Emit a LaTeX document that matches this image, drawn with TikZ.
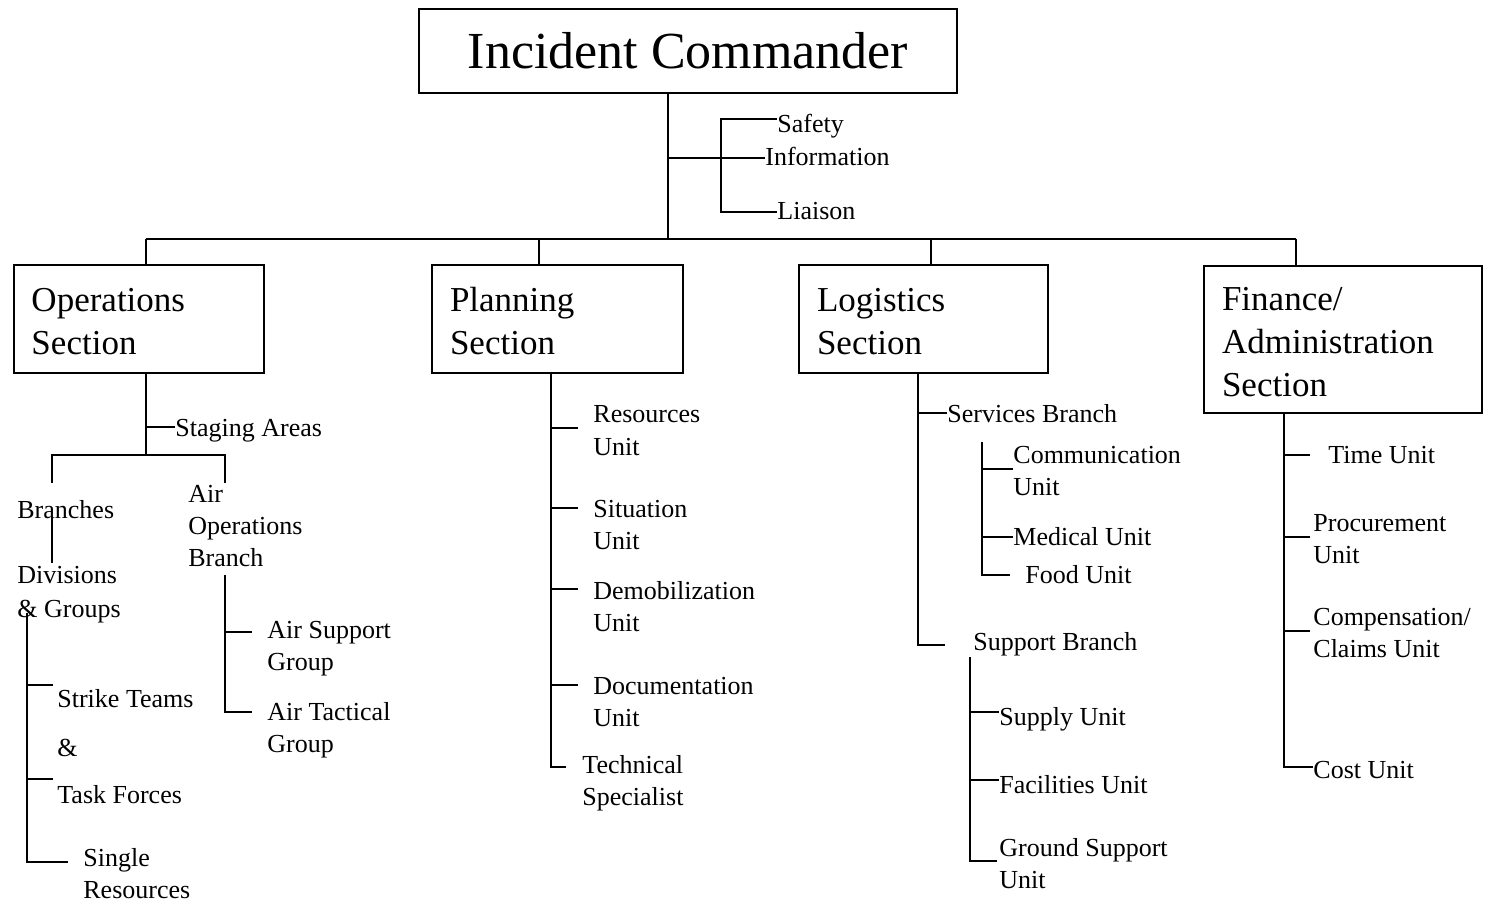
\documentclass[tikz,border=0pt]{standalone}
\usepackage{fontspec}
\setmainfont{Liberation Serif}
\begin{document}
\tikzset{
 conn/.style={line width=1pt},
 lbl/.style={font=\fontsize{13}{16}\selectfont, inner sep=0pt, anchor=north west, align=left, yshift=4.3pt},
 wide/.style={font=\fontsize{13}{16.75}\selectfont},
 secbox/.style={draw, line width=1pt, font=\fontsize{17.5}{21.5}\selectfont, align=left, inner xsep=9pt, inner ysep=0pt, minimum height=54pt},
 topbox/.style={draw, line width=1pt, font=\fontsize{26}{30}\selectfont, minimum width=269pt, minimum height=42pt, inner sep=0pt}
}
\newcommand{\topstrut}{\rule{0pt}{14.5pt}}
\begin{tikzpicture}[x=0.5pt,y=-0.5pt]
\useasboundingbox (0,0) rectangle (1486,903);
% top
\node[topbox] (ic) at (688,51) {Incident Commander};
\coordinate (j0) at (668,239);
\coordinate (s0) at (668,158);
\coordinate (s1) at (721,158);
\coordinate (sa) at (721,119);
\coordinate (sl) at (721,212);
\node[lbl] (safety) at (777,122) {Safety};
\node[lbl] (info) at (765,155) {Information};
\node[lbl] (liaison) at (777,210) {Liaison};
\draw[conn] (ic.south -| j0) -- (j0);
\draw[conn] (s0) -- (s0 -| info.west);
\draw[conn] (sa -| safety.west) -- (sa) -- (sl) -- (sl -| liaison.west);
% sections
\node[secbox, text width=107pt] (ops) at (138.5,319) {\topstrut Operations\\Section};
\node[secbox, text width=107.5pt] (plan) at (557.5,319) {\topstrut Planning\\Section};
\node[secbox, text width=106.5pt] (log) at (923.5,319) {\topstrut Logistics\\Section};
\node[secbox, text width=121pt, minimum height=73.5pt] (fin) at (1343,339.5) {\topstrut Finance/\\Administration\\Section};
\coordinate (d1) at (146,239);
\coordinate (d2) at (539,239);
\coordinate (d3) at (931,239);
\coordinate (d4) at (1296,239);
\draw[conn] (d1) -- (d4);
\draw[conn] (d1) -- (d1 |- ops.north);
\draw[conn] (d2) -- (d2 |- plan.north);
\draw[conn] (d3) -- (d3 |- log.north);
\draw[conn] (d4) -- (d4 |- fin.north);
% operations subtree
\node[lbl] (staging) at (175,427.5) {Staging Areas};
\node[lbl] (branches) at (17,509) {Branches};
\node[lbl, font=\fontsize{13}{17}\selectfont] (divisions) at (17,574) {Divisions\\\& Groups};
\node[lbl] (airops) at (188,493) {Air\\Operations\\Branch};
\node[lbl] (airsup) at (267,629) {Air Support\\Group};
\node[lbl] (airtac) at (267,711) {Air Tactical\\Group};
\node[lbl] (strike) at (57,698) {Strike Teams};
\node[lbl] (amp) at (57,747) {\&};
\node[lbl] (task) at (57,794) {Task Forces};
\node[lbl, font=\fontsize{13}{15.75}\selectfont] (single) at (83,857) {Single\\Resources};
\coordinate (o0) at (146,427);
\coordinate (o1) at (146,455);
\coordinate (ob) at (52,483);
\coordinate (oa) at (225,483);
\draw[conn] (d1 |- ops.south) -- (o1);
\draw[conn] (o0) -- (o0 -| staging.west);
\draw[conn] (ob) |- (o1) -| (oa);
\coordinate (b1) at (52,518);
\coordinate (b2) at (52,563);
\draw[conn] (b1) -- (b2);
\coordinate (a1) at (225,575);
\coordinate (a2) at (225,632);
\coordinate (a2e) at (252,632);
\coordinate (a3e) at (252,712);
\draw[conn] (a1) |- (a3e);
\draw[conn] (a2) -- (a2e);
\coordinate (g0) at (27,613);
\coordinate (g1) at (27,685);
\coordinate (g2) at (27,779);
\coordinate (g1e) at (53,685);
\coordinate (g2e) at (53,779);
\coordinate (g3e) at (68,862);
\draw[conn] (g0) |- (g3e);
\draw[conn] (g1) -- (g1e);
\draw[conn] (g2) -- (g2e);
% planning subtree
\node[lbl, wide] (resources) at (593,413.5) {Resources\\Unit};
\node[lbl] (situation) at (593,508.5) {Situation\\Unit};
\node[lbl] (demob) at (593,590) {Demobilization\\Unit};
\node[lbl] (docu) at (593,685) {Documentation\\Unit};
\node[lbl] (tech) at (582,763.5) {Technical\\Specialist};
\coordinate (pv) at (551,767);
\coordinate (pve) at (566,767);
\draw[conn] (plan.south -| pv) -- (pv) -- (pve);
\foreach \yy in {428,508,589,685} \draw[conn] (551,\yy) -- (578,\yy);
% logistics subtree
\node[lbl] (services) at (947,413) {Services Branch};
\node[lbl] (support) at (973,641) {Support Branch};
\node[lbl] (comm) at (1013,454) {Communication\\Unit};
\node[lbl] (medical) at (1013,535.5) {Medical Unit};
\node[lbl] (food) at (1025,574) {Food Unit};
\node[lbl] (supply) at (999,716) {Supply Unit};
\node[lbl] (facil) at (999,784) {Facilities Unit};
\node[lbl] (ground) at (999,846.5) {Ground Support\\Unit};
\coordinate (lv0) at (918,413);
\coordinate (lv1) at (918,645);
\coordinate (lv1e) at (945,645);
\draw[conn] (log.south -| lv0) -- (lv1) -- (lv1e);
\draw[conn] (lv0) -- (lv0 -| services.west);
\coordinate (sv0) at (982,442);
\coordinate (sv1) at (982,469);
\coordinate (sv2) at (982,537);
\coordinate (sv3e) at (1010,575);
\draw[conn] (sv0) |- (sv3e);
\draw[conn] (sv1) -- (sv1 -| comm.west);
\draw[conn] (sv2) -- (sv2 -| medical.west);
\coordinate (su0) at (970,657);
\coordinate (su1) at (970,712);
\coordinate (su2) at (970,780);
\coordinate (su3e) at (997,861);
\draw[conn] (su0) |- (su3e);
\draw[conn] (su1) -- (su1 -| supply.west);
\draw[conn] (su2) -- (su2 -| facil.west);
% finance subtree
\node[lbl] (time) at (1328,454) {Time Unit};
\node[lbl] (procure) at (1313,523) {Procurement\\Unit};
\node[lbl] (comp) at (1313,616.5) {Compensation/\\Claims Unit};
\node[lbl] (cost) at (1313,769) {Cost Unit};
\coordinate (fv) at (1284,767);
\draw[conn] (fin.south -| fv) -- (fv) -- (fv -| cost.west);
\foreach \yy in {455,537,631} \draw[conn] (1284,\yy) -- (1310,\yy);
\end{tikzpicture}
\end{document}
